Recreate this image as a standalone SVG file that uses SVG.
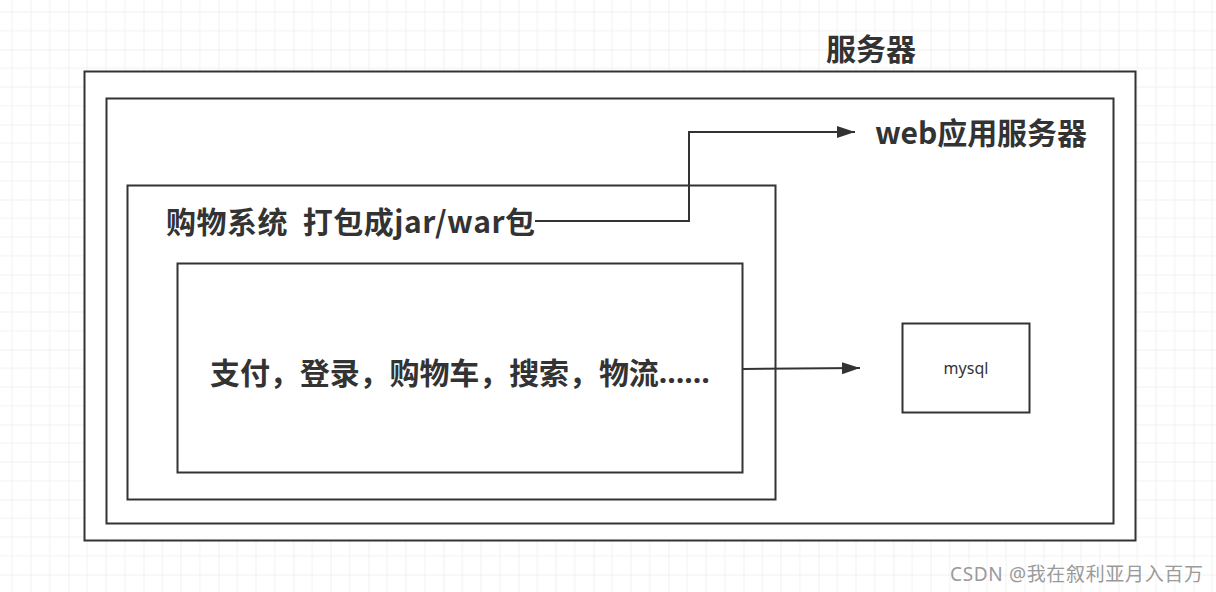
<svg xmlns="http://www.w3.org/2000/svg" width="1216" height="592" viewBox="0 0 1216 592">
<style>
.box{fill:#fff;stroke:#333;stroke-width:2}
.t{font-family:"Noto Sans CJK SC","Noto Sans",sans-serif;font-weight:bold;fill:#333;font-size:30px;dominant-baseline:central;white-space:pre}
.s{font-family:"Noto Sans","Noto Sans CJK SC",sans-serif;fill:#333;font-size:16px;dominant-baseline:central}
.w{font-family:"Noto Sans","Noto Sans CJK SC",sans-serif;fill:#9a9a9a;font-size:19px;dominant-baseline:central}
.c{fill:none;stroke:#333;stroke-width:2}
.e{font-family:"Noto Sans","DejaVu Sans",sans-serif}
</style>
<defs>
<pattern id="grid" patternUnits="userSpaceOnUse" x="68.5" y="49.5" width="75" height="75">
<path d="M18.75 0V75M37.5 0V75M56.25 0V75M0 18.75H75M0 37.5H75M0 56.25H75" stroke="#f1f1f1" stroke-width="1" fill="none"/>
<path d="M0 0V75M0 0H75" stroke="#e4e4e4" stroke-width="1" fill="none"/>
</pattern>
<marker id="arr" markerUnits="userSpaceOnUse" markerWidth="20" markerHeight="14" refX="18" refY="6" orient="auto">
<path d="M0 0L18 6L0 12Z" fill="#333"/>
</marker>
</defs>
<rect width="1216" height="592" fill="#fff"/>
<rect width="1216" height="592" fill="url(#grid)"/>
<g id="server">
<rect class="box" x="84.5" y="71.5" width="1051" height="469"/>
<text class="t" x="826" y="47" textLength="90" lengthAdjust="spacing">服务器</text>
</g>
<g id="web-server">
<rect class="box" x="106.5" y="98.5" width="1007" height="425"/>
<text class="t" x="875" y="131" textLength="212" lengthAdjust="spacing">web应用服务器</text>
</g>
<g id="shop-system">
<rect class="box" x="127.5" y="185.5" width="648" height="314"/>
<text class="t" x="166" y="220" xml:space="preserve" textLength="369" lengthAdjust="spacing">购物系统  打包成jar/war包</text>
</g>
<g id="modules">
<rect class="box" x="177.5" y="263.5" width="565" height="209"/>
<text class="t" x="210" y="371" textLength="500" lengthAdjust="spacing">支付，登录，购物车，搜索，物流<tspan class="e">……</tspan></text>
</g>
<g id="mysql">
<rect class="box" x="902.5" y="323.5" width="127" height="89"/>
<text class="s" x="966" y="368" text-anchor="middle">mysql</text>
</g>
<g id="connectors">
<path class="c" d="M535 221H689V132H855" marker-end="url(#arr)"/>
<path class="c" d="M743 369L860 368" marker-end="url(#arr)"/>
</g>
<text class="w" x="950" y="574" textLength="253" lengthAdjust="spacing">CSDN @我在叙利亚月入百万</text>
</svg>
